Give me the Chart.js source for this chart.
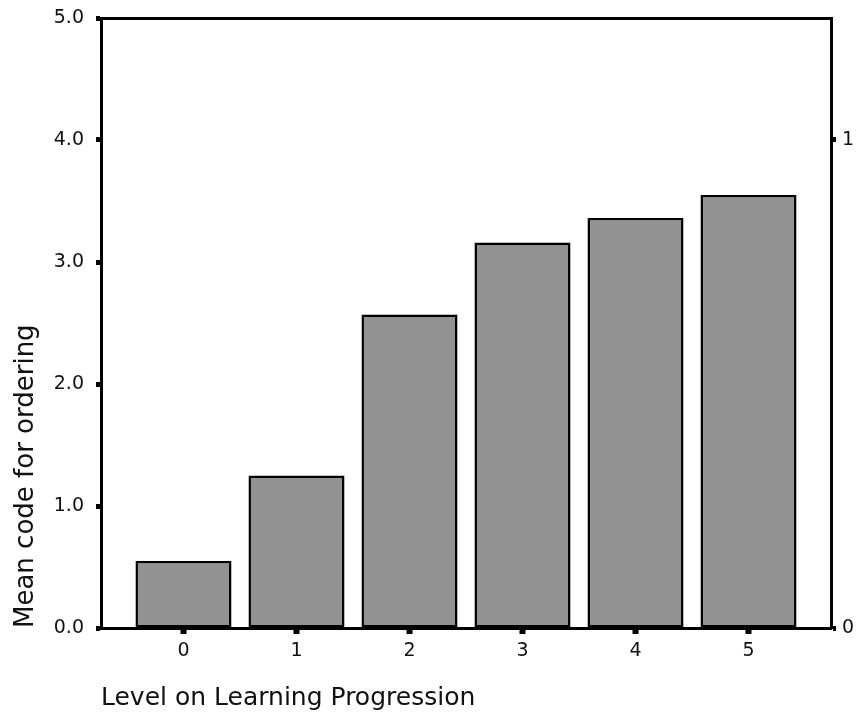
<!DOCTYPE html>
<html>
<head>
<meta charset="utf-8">
<script src="https://cdn.jsdelivr.net/npm/chart.js@4"></script>
<style>
  html, body { margin: 0; padding: 0; background: #fff; }
  #wrap { width: 856px; height: 728px; }
</style>
</head>
<body>
<div id="wrap"><canvas id="myChart" width="856" height="728"></canvas></div>
<script>
const levels = [0, 1, 2, 3, 4, 5];
const meanCodes = [0.55, 1.25, 2.57, 3.16, 3.36, 3.55];
const levelRange = [-0.73, 5.73];
const leftTicks = [0, 1, 2, 3, 4, 5];
const rightTicks = [0, 1];
const rightRange = [0, 1.25];

const FONT = "'DejaVu Sans', Verdana, sans-serif";
const tickFont = { family: FONT, size: 19 };
const titleFont = { family: FONT, size: 25 };

// put ticks exactly at the given values
const fixedTicks = values => scale => {
    scale.ticks = values.map(v => ({ value: v }));
};

// fixed box size, no extra room reserved for end labels
const fixBox = (w, h) => s => {
    if (w !== null) s.width = w;
    if (h !== null) s.height = h;
    s.paddingTop = 0;
    s.paddingBottom = 0;
    s.paddingLeft = 0;
    s.paddingRight = 0;
};

const config = {
    type: "bar",
    data: {
        labels: levels,
        datasets: [{
            data: meanCodes,
            backgroundColor: "#929292",
            borderColor: "#000",
            borderWidth: 2.5,
            borderSkipped: false,
            barPercentage: 0.85,
            categoryPercentage: 1.0,
            xAxisID: "x",
            yAxisID: "y"
        }]
    },
    options: {
        responsive: false,
        animation: false,
        layout: { padding: 0 },
        plugins: {
            legend: { display: false },
            tooltip: { enabled: false }
        },
        scales: {
            x: {
                type: "linear",
                position: "bottom",
                min: levelRange[0],
                max: levelRange[1],
                offset: false,
                grid: {
                    offset: false,
                    drawOnChartArea: false,
                    tickLength: 6,
                    tickWidth: 6,
                    tickColor: "#000"
                },
                border: { display: true, color: "#000", width: 3 },
                ticks: {
                    font: tickFont,
                    color: "#111",
                    padding: 6,
                    maxRotation: 0,
                    autoSkip: false,
                    callback: v => String(v)
                },
                afterBuildTicks: fixedTicks(levels),
                title: {
                    display: true,
                    text: "Level on Learning Progression",
                    align: "start",
                    font: titleFont,
                    color: "#111",
                    padding: { top: 0, bottom: 15 }
                },
                afterFit: fixBox(null, 100)
            },
            xTop: {
                type: "category",
                position: "top",
                labels: levels,
                grid: { display: false, drawTicks: false },
                border: { display: true, color: "#000", width: 3 },
                ticks: { display: false },
                afterFit: fixBox(null, 18)
            },
            y: {
                type: "linear",
                position: "left",
                min: leftTicks[0],
                max: leftTicks[leftTicks.length - 1],
                grid: {
                    drawOnChartArea: false,
                    tickLength: 5,
                    tickWidth: 5,
                    tickColor: "#000"
                },
                border: { display: true, color: "#000", width: 3 },
                ticks: {
                    font: tickFont,
                    color: "#111",
                    padding: 12,
                    callback: v => v.toFixed(1)
                },
                afterBuildTicks: fixedTicks(leftTicks),
                title: {
                    display: true,
                    text: "Mean code for ordering",
                    align: "start",
                    font: { family: FONT, size: 26 },
                    color: "#111",
                    padding: { top: 11, bottom: 0 }
                },
                afterFit: fixBox(101, null)
            },
            y1: {
                type: "linear",
                position: "right",
                min: rightRange[0],
                max: rightRange[1],
                grid: {
                    drawOnChartArea: false,
                    tickLength: 5,
                    tickWidth: 5,
                    tickColor: "#000"
                },
                border: { display: true, color: "#000", width: 3 },
                ticks: {
                    font: tickFont,
                    color: "#111",
                    padding: 6,
                    callback: v => String(v)
                },
                afterBuildTicks: fixedTicks(rightTicks),
                afterFit: fixBox(25, null)
            }
        }
    }
};

const myChart = new Chart(document.getElementById("myChart"), config);
</script>
</body>
</html>
